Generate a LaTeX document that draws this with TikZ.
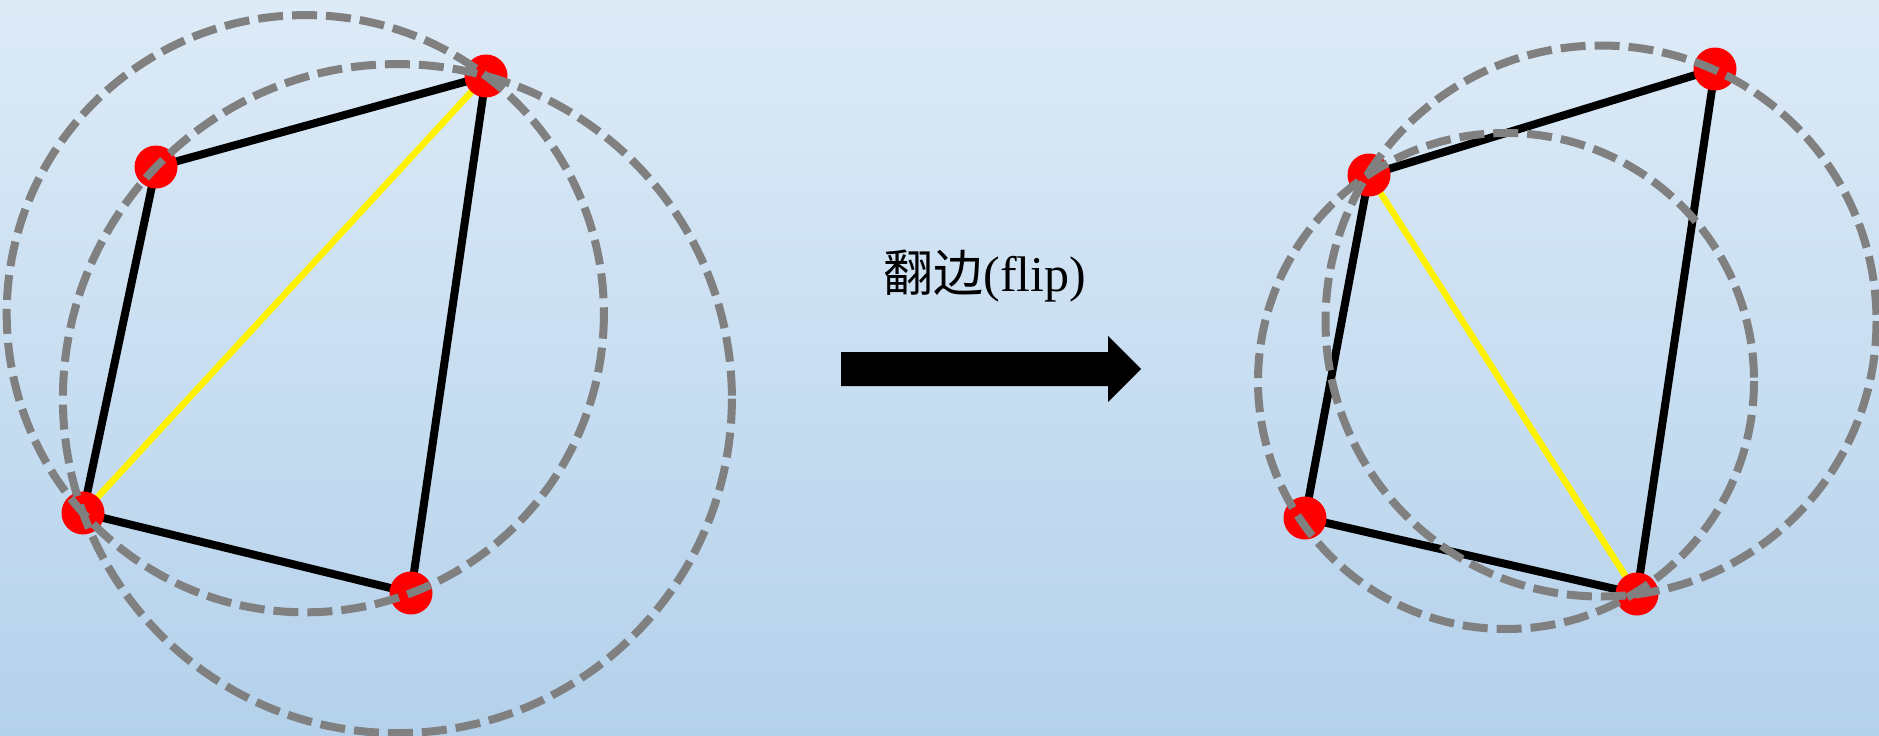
\documentclass[tikz,border=0pt]{standalone}
\usepackage{fontspec}
\setmainfont{Liberation Serif}
\newfontfamily\cjk{Noto Sans CJK SC}
\definecolor{bgtop}{RGB}{221,235,247}
\definecolor{bgbot}{RGB}{180,209,235}
\definecolor{dashgray}{RGB}{128,128,128}
\tikzset{
  vtx/.style={circle, fill=red, inner sep=0pt, minimum size=43pt},
  edge/.style={black, line width=8pt},
  diag/.style={yellow, line width=6.5pt},
  ccircle/.style={dashgray, line width=8pt, dash pattern=on 25pt off 9pt},
}
\begin{document}
\begin{tikzpicture}[x=1pt, y=-1pt]
\useasboundingbox (0,0) rectangle (1879,736);
\shade[top color=bgtop, bottom color=bgbot] (0,0) rectangle (1879,736);
% left quadrilateral
\coordinate (p1) at (156,167);
\coordinate (p2) at (486,76);
\coordinate (p3) at (83,513);
\coordinate (p4) at (411,593);
\draw[diag] (p2) -- (p3);
\draw[edge, line join=round] (p1) -- (p2) -- (p4) -- (p3) -- cycle;
\node[vtx] (a1) at (p1) {};
\node[vtx] (a2) at (p2) {};
\node[vtx] (a3) at (p3) {};
\node[vtx] (a4) at (p4) {};
\draw[ccircle] (305.3,313.7) circle[radius=298.6];
\draw[ccircle] (397.4,398.6) circle[radius=334.5];
% right quadrilateral
\coordinate (q1) at (1369,175);
\coordinate (q2) at (1715,69);
\coordinate (q3) at (1305,518);
\coordinate (q4) at (1637,594);
\draw[diag] (q1) -- (q4);
\draw[edge, line join=round] (q1) -- (q2) -- (q4) -- (q3) -- cycle;
\node[vtx] (b1) at (q1) {};
\node[vtx] (b2) at (q2) {};
\node[vtx] (b3) at (q3) {};
\node[vtx] (b4) at (q4) {};
\draw[ccircle] (1601,321) circle[radius=275.5];
\draw[ccircle] (1506,381) circle[radius=248];
% label and arrow
\node[anchor=base, inner sep=0pt, font=\fontsize{50}{58}\selectfont] (lbl) at (985,291) {{\cjk 翻边}(flip)};
\fill[black] (841,352) -- (1108,352) -- (1108,336) -- (1141,369) -- (1108,402) -- (1108,386) -- (841,386) -- cycle;
\end{tikzpicture}
\end{document}
